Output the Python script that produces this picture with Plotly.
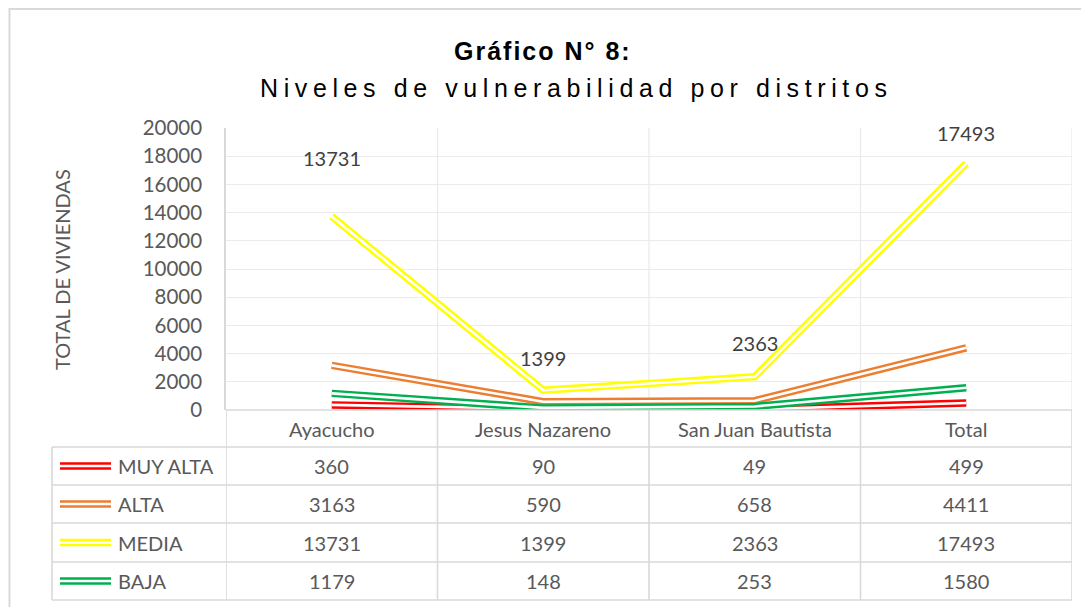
import plotly.graph_objects as go

# Data
districts = ["Ayacucho", "Jesus Nazareno", "San Juan Bautista", "Total"]
levels = ["MUY ALTA", "ALTA", "MEDIA", "BAJA"]
muy_alta = [360, 90, 49, 499]
alta = [3163, 590, 658, 4411]
media = [13731, 1399, 2363, 17493]
baja = [1179, 148, 253, 1580]
y_ticks = list(range(0, 20001, 2000))

series = [muy_alta, alta, media, baja]
colors = ["#FF0000", "#ED7D31", "#FFFF00", "#00B050"]

# page body has an 8px margin, so the figure is drawn 8px smaller
OFF = 8
W, H = 1089 - OFF, 607 - OFF
L, R, T, B = 226, 1072, 128, 410  # plot area in window pixels
FONT = "Lato, Open Sans, sans-serif"
TITLE_FONT = "Liberation Sans Narrow, Liberation Sans, Arial"
GRAY = "#595959"
BORDER = "#D9D9D9"


def px(x):
    return (x - L) / (R - L)


def py(y):
    return (B - y) / (B - T)


def text(x, y, s, xref="paper", yref="paper", size=20, color=GRAY, family=FONT, **kw):
    d = dict(x=x, y=y, xref=xref, yref=yref, text=s, showarrow=False,
             xanchor="center", yanchor="middle",
             font=dict(family=family, size=size, color=color))
    d.update(kw)
    return d


fig = go.Figure()

# Compound (double) lines: thick coloured stroke with a thin white core
for name, vals, col in zip(levels, series, colors):
    fig.add_trace(go.Scatter(
        x=list(range(len(districts))), y=vals, name=name, mode="lines",
        line=dict(color=col, width=7.5), hoverinfo="skip", showlegend=False,
    ))
    fig.add_trace(go.Scatter(
        x=list(range(len(districts))), y=vals, mode="lines",
        line=dict(color="white", width=2.6), hoverinfo="skip", showlegend=False,
    ))

shapes = []
annotations = []

# vertical gridlines at category boundaries (plot + table)
for i in range(len(districts)):
    shapes.append(dict(type="line", xref="x", yref="paper", x0=i + 0.5, x1=i + 0.5,
                       y0=0, y1=1, line=dict(color="#EBEBEB", width=1.3), layer="below"))
    shapes.append(dict(type="line", xref="x", yref="paper", x0=i + 0.5, x1=i + 0.5,
                       y0=py(600), y1=0, line=dict(color=BORDER, width=1.6)))
shapes.append(dict(type="line", xref="x", yref="paper", x0=-0.5, x1=-0.5,
                   y0=py(600), y1=0, line=dict(color=BORDER, width=1.6)))

# table horizontal lines
shapes.append(dict(type="line", xref="paper", yref="paper", x0=0, x1=1, y0=0, y1=0,
                   line=dict(color=BORDER, width=1.6)))
row_edges = [447, 485, 523, 562, 600]
for y in row_edges:
    shapes.append(dict(type="line", xref="paper", yref="paper", x0=px(52), x1=1,
                       y0=py(y), y1=py(y), line=dict(color=BORDER, width=1.6)))
shapes.append(dict(type="line", xref="paper", yref="paper", x0=px(52), x1=px(52),
                   y0=py(447), y1=py(600), line=dict(color=BORDER, width=1.6)))

# outer chart frame (left and top)
shapes.append(dict(type="line", xref="paper", yref="paper", x0=px(9.5), x1=px(9.5),
                   y0=py(8), y1=py(615), line=dict(color=BORDER, width=2)))
shapes.append(dict(type="line", xref="paper", yref="paper", x0=px(9.5), x1=px(1095),
                   y0=py(9), y1=py(9), line=dict(color=BORDER, width=2)))

# header row: district names
for i, d in enumerate(districts):
    annotations.append(text(i, py(428.5), d, xref="x"))

# table rows with legend keys
row_centers = [466, 504, 542.5, 581]
for name, vals, col, yc in zip(levels, series, colors, row_centers):
    shapes.append(dict(type="line", xref="paper", yref="paper", x0=px(60), x1=px(111),
                       y0=py(yc), y1=py(yc), line=dict(color=col, width=7.5)))
    shapes.append(dict(type="line", xref="paper", yref="paper", x0=px(60), x1=px(111),
                       y0=py(yc), y1=py(yc), line=dict(color="white", width=2.6)))
    annotations.append(text(px(116), py(yc), name, xanchor="left"))
    for i, v in enumerate(vals):
        annotations.append(text(i, py(yc), str(v), xref="x"))

# data labels on MEDIA
label_shift = [58, 32, 34, 30]
for i, v in enumerate(media):
    annotations.append(text(i, v, str(v), xref="x", yref="y", color="#404040",
                            yshift=label_shift[i]))

# y axis title
annotations.append(text(px(62), py(270), "TOTAL DE VIVIENDAS", textangle=-90, size=20))

# title
annotations.append(text(px(543), py(51),
                        "<b><span style='letter-spacing:2px'>Gráfico N° 8:</span></b>",
                        size=25, color="#000000", family=TITLE_FONT))
annotations.append(text(px(576), py(88),
                        "<span style='letter-spacing:5.6px'>Niveles de vulnerabilidad por distritos</span>",
                        size=25, color="#000000", family=TITLE_FONT))

fig.update_layout(
    width=W, height=H,
    margin=dict(l=L - OFF, r=W - (R - OFF), t=T - OFF, b=H - (B - OFF), pad=0),
    paper_bgcolor="white", plot_bgcolor="white",
    showlegend=False,
    shapes=shapes,
    annotations=annotations,
    xaxis=dict(range=[-0.5, 3.5], showgrid=False, zeroline=False, showline=False,
               showticklabels=False, fixedrange=True),
    yaxis=dict(range=[0, 20000], tickvals=y_ticks, tickformat="d", showgrid=True,
               gridcolor="#EBEBEB", gridwidth=1.3, zeroline=False, showline=True,
               linecolor=BORDER, linewidth=1.6, ticks="", ticklabelstandoff=18,
               tickfont=dict(family=FONT, size=20.5, color=GRAY), fixedrange=True),
)

fig.write_html("out.html")
